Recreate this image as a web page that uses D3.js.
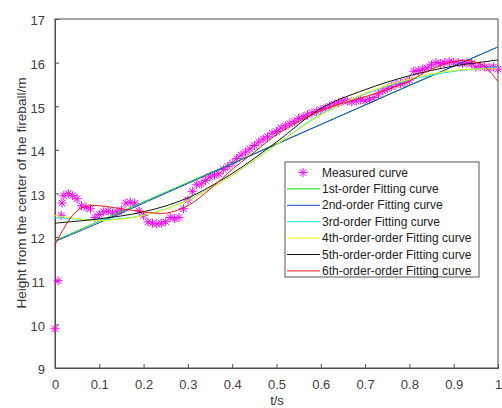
<!DOCTYPE html>
<html>
<head>
<meta charset="utf-8">
<script src="https://cdn.jsdelivr.net/npm/d3@7"></script>
<style>
  body { margin: 0; background: #fff; }
  text { font-family: "Liberation Sans", Arial, sans-serif; }
</style>
</head>
<body>
<div id="chart"></div>
<script>
// Measured curve (time in s, height in m)
const measT = [0, 0.007, 0.014, 0.016, 0.02, 0.03, 0.04, 0.05, 0.06, 0.07, 0.08, 0.09,
  0.10, 0.11, 0.12, 0.13, 0.14, 0.15, 0.16, 0.17, 0.18, 0.19,
  0.20, 0.21, 0.22, 0.23, 0.24, 0.25, 0.26, 0.27, 0.28, 0.29,
  0.30, 0.31, 0.32, 0.33, 0.34, 0.35, 0.36, 0.37, 0.38, 0.39,
  0.40, 0.41, 0.42, 0.43, 0.44, 0.45, 0.46, 0.47, 0.48, 0.49,
  0.50, 0.51, 0.52, 0.53, 0.54, 0.55, 0.56, 0.57, 0.58, 0.59,
  0.60, 0.61, 0.62, 0.63, 0.64, 0.65, 0.66, 0.67, 0.68, 0.69,
  0.70, 0.71, 0.72, 0.73, 0.74, 0.75, 0.76, 0.77, 0.78, 0.79,
  0.80, 0.81, 0.82, 0.83, 0.84, 0.85, 0.86, 0.87, 0.88, 0.89,
  0.90, 0.91, 0.92, 0.93, 0.94, 0.95, 0.96, 0.97, 0.98, 0.99, 1.00];
const measH = [9.9, 11.0, 12.5, 12.78, 12.95, 13.0, 12.95, 12.88, 12.72, 12.68, 12.65, 12.45,
  12.52, 12.58, 12.6, 12.55, 12.58, 12.62, 12.78, 12.8, 12.78, 12.6,
  12.5, 12.35, 12.32, 12.3, 12.32, 12.35, 12.45, 12.42, 12.45, 12.65,
  12.85, 13.05, 13.2, 13.22, 13.3, 13.38, 13.42, 13.45, 13.55, 13.62,
  13.7, 13.8, 13.88, 13.95, 14.02, 14.1, 14.18, 14.25, 14.3, 14.38,
  14.42, 14.5, 14.55, 14.6, 14.65, 14.72, 14.76, 14.8, 14.85, 14.88,
  14.92, 14.95, 15.0, 15.05, 15.08, 15.12, 15.12, 15.1, 15.12, 15.15,
  15.12, 15.15, 15.2, 15.28, 15.35, 15.4, 15.45, 15.5, 15.52, 15.55,
  15.6, 15.8, 15.82, 15.85, 15.88, 15.95, 16.0, 15.98, 16.0, 16.02,
  16.0, 16.0, 15.98, 16.0, 15.98, 15.9, 15.92, 15.9, 15.88, 15.9, 15.85];

// Fitted curves
const fit1T = [0, 1];
const fit1 = [11.92, 16.36];
const fitT = [0, 0.1, 0.2, 0.3, 0.4, 0.5, 0.6, 0.7, 0.8, 0.9, 1.0];
const fit2 = [11.9, 12.33, 12.78, 13.23, 13.68, 14.13, 14.58, 15.03, 15.48, 15.92, 16.36];
const fit3 = [12.45, 12.4, 12.5, 12.85, 13.42, 14.12, 14.82, 15.28, 15.6, 15.8, 15.9];
const fit4 = [12.5, 12.38, 12.5, 12.84, 13.42, 14.12, 14.8, 15.3, 15.62, 15.82, 15.86];
const fit5 = [12.32, 12.42, 12.58, 12.9, 13.46, 14.18, 14.95, 15.38, 15.7, 15.92, 16.06];
const fit6T = [0, 0.02, 0.04, 0.06, 0.08, 0.1, 0.15, 0.2, 0.25, 0.3, 0.35, 0.4, 0.45, 0.5,
  0.55, 0.6, 0.65, 0.7, 0.75, 0.8, 0.85, 0.9, 0.93, 0.96, 0.98, 1.0];
const fit6 = [11.82, 12.2, 12.5, 12.67, 12.72, 12.72, 12.65, 12.58, 12.55, 12.72, 13.1, 13.55,
  13.95, 14.35, 14.65, 14.9, 15.07, 15.22, 15.38, 15.58, 15.85, 16.02, 16.05, 15.97, 15.82, 15.56];

const xTicks = [0, 0.1, 0.2, 0.3, 0.4, 0.5, 0.6, 0.7, 0.8, 0.9, 1];
const yTicks = [9, 10, 11, 12, 13, 14, 15, 16, 17];

const legendLabels = ["Measured curve", "1st-order Fitting curve", "2nd-order Fitting curve",
  "3rd-order Fitting curve", "4th-order-order Fitting curve", "5th-order-order Fitting curve",
  "6th-order-order Fitting curve"];
const fitColors = ["#00e000", "#1f3fe0", "#00e5e5", "#f5f500", "#111111", "#f01818"];

const margin = {top: 19, right: 4, bottom: 40, left: 55},
      width = 502 - margin.left - margin.right,
      height = 408 - margin.top - margin.bottom;

const svgRoot = d3.select("#chart")
  .append("svg")
  .attr("width", 502)
  .attr("height", 408);

svgRoot.append("rect").attr("width", 502).attr("height", 408).attr("fill", "#fff");

const svg = svgRoot.append("g")
  .attr("transform", `translate(${margin.left},${margin.top})`);

const x = d3.scaleLinear().domain([0, 1]).range([0, width]);
const y = d3.scaleLinear().domain([9, 17]).range([height, 0]);

// box
svg.append("rect")
  .attr("width", width).attr("height", height)
  .attr("fill", "none").attr("stroke", "#4d4d4d").attr("stroke-width", 1);

// axes with inward ticks
const xAxis = svg.append("g")
  .attr("transform", `translate(0,${height})`)
  .call(d3.axisBottom(x).tickValues(xTicks).tickSize(-4).tickPadding(12)
    .tickFormat(d => d === 0 || d === 1 ? d3.format("d")(d) : d3.format(".1f")(d)));
const yAxis = svg.append("g")
  .call(d3.axisLeft(y).tickValues(yTicks).tickSize(-4).tickPadding(10));

[xAxis, yAxis].forEach(g => {
  g.select(".domain").attr("stroke", "#4d4d4d");
  g.selectAll(".tick line").attr("stroke", "#4d4d4d");
  g.selectAll(".tick text").attr("fill", "#404040").style("font-size", "13px")
    .style("font-family", "Liberation Sans, Arial, sans-serif");
});
yAxis.selectAll(".tick text").attr("dy", "0.45em");

// axis labels
svgRoot.append("text")
  .attr("transform", `translate(26,193) rotate(-90)`)
  .attr("text-anchor", "middle")
  .attr("fill", "#333")
  .style("font-size", "13.6px")
  .text("Height from the center of the fireball/m");

svgRoot.append("text")
  .attr("x", 277).attr("y", 405)
  .attr("text-anchor", "middle")
  .attr("fill", "#333")
  .style("font-size", "13px")
  .text("t/s");

// asterisk marker path
function star(r) {
  const d = r * 0.72;
  return `M${-r},0L${r},0M0,${-r}L0,${r}M${-d},${-d}L${d},${d}M${-d},${d}L${d},${-d}`;
}

const meas = measT.map((t, i) => ({t: t, h: measH[i]}));
svg.append("g")
  .selectAll("path")
  .data(meas)
  .enter()
  .append("path")
  .attr("transform", d => `translate(${x(d.t)},${y(d.h)})`)
  .attr("d", star(4.5))
  .attr("stroke", "#ff00ff")
  .attr("stroke-width", 1)
  .attr("fill", "none");

// fitted curves
const fits = [
  {t: fit1T, v: fit1},
  {t: fitT, v: fit2},
  {t: fitT, v: fit3},
  {t: fitT, v: fit4},
  {t: fitT, v: fit5},
  {t: fit6T, v: fit6}
];
const line = d3.line()
  .x(d => x(d[0]))
  .y(d => y(d[1]))
  .curve(d3.curveCatmullRom);

fits.forEach((f, i) => {
  svg.append("path")
    .datum(f.t.map((t, j) => [t, f.v[j]]))
    .attr("d", line)
    .attr("fill", "none")
    .attr("stroke", fitColors[i])
    .attr("stroke-width", 1);
});

// legend
const lg = svgRoot.append("g").attr("transform", "translate(285,162)");
lg.append("rect")
  .attr("width", 194).attr("height", 115)
  .attr("fill", "#fff").attr("stroke", "#555").attr("stroke-width", 1);

legendLabels.forEach((lab, i) => {
  const yy = 10.5 + i * 16.4;
  if (i === 0) {
    lg.append("path")
      .attr("transform", `translate(18,${yy})`)
      .attr("d", star(4.5))
      .attr("stroke", "#ff00ff").attr("fill", "none");
  } else {
    lg.append("line")
      .attr("x1", 2).attr("x2", 35).attr("y1", yy).attr("y2", yy)
      .attr("stroke", fitColors[i - 1]).attr("stroke-width", 1);
  }
  lg.append("text")
    .attr("x", 37).attr("y", yy + 4)
    .attr("fill", "#222")
    .style("font-size", "12px")
    .text(lab);
});
</script>
</body>
</html>
